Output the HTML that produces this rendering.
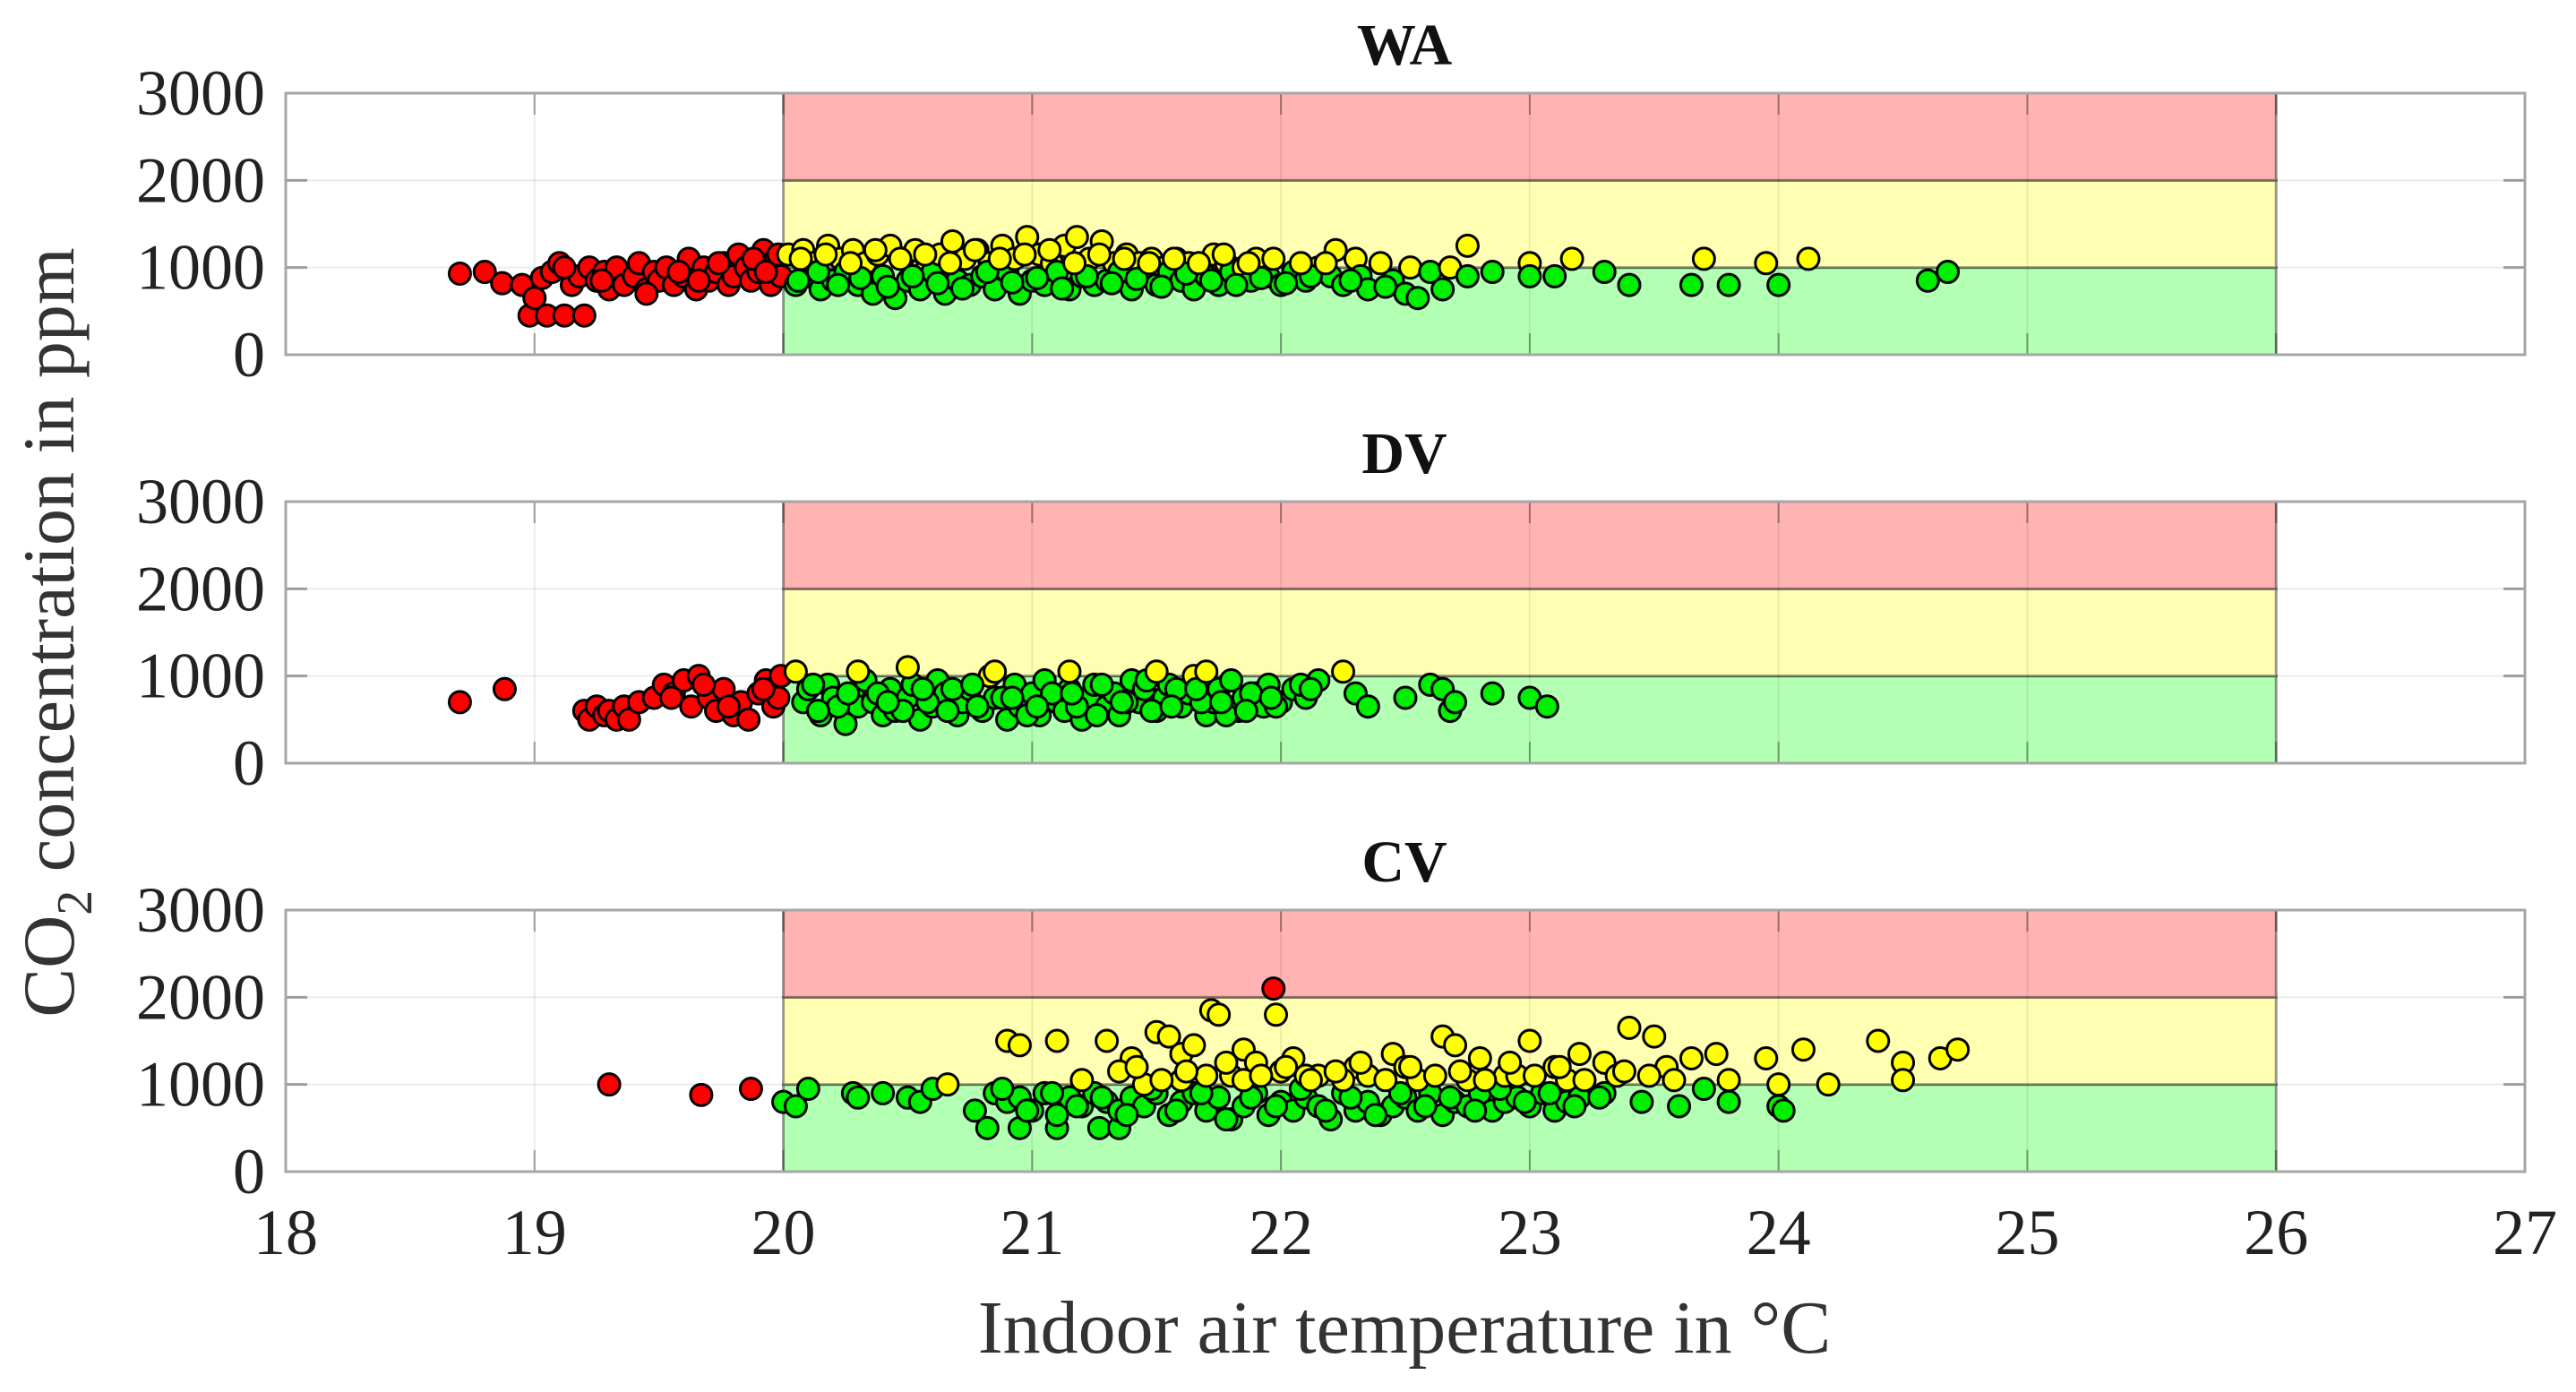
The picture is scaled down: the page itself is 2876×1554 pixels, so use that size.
<!DOCTYPE html>
<html><head><meta charset="utf-8"><style>
html,body{margin:0;padding:0;background:#fff;}
svg{display:block;font-family:"Liberation Serif",serif;}
</style></head><body>
<svg id="chart" width="2876" height="1554" viewBox="0 0 2876 1554" xmlns="http://www.w3.org/2000/svg"></svg>
<script>
const xTicks=[18,19,20,21,22,23,24,25,26,27];
const yTicks=[0,1000,2000,3000];
const panelTitles=["WA","DV","CV"];
const bandLimits=[0,1000,2000,3000];
const bandRange=[20,26];

const waTemp=[18.7,18.8,18.87,18.95,18.98,19.0,19.03,19.05,19.07,19.1,19.12,19.15,19.18,19.2,19.22,19.25,19.28,19.3,19.33,19.36,19.4,19.42,19.45,19.48,19.5,19.53,19.56,19.6,19.62,19.65,19.68,19.7,19.73,19.76,19.78,19.8,19.82,19.85,19.87,19.9,19.92,19.95,19.97,19.99,
19.12,19.27,19.45,19.58,19.66,19.74,19.88,19.93,19.98,
20.02,20.05,20.08,20.1,20.12,20.15,20.18,20.2,20.23,20.25,20.28,20.3,20.33,20.36,20.38,20.4,20.43,20.45,20.48,20.5,20.53,20.55,20.58,20.6,20.63,20.65,20.68,20.7,20.73,20.75,20.78,20.8,20.83,20.85,20.88,20.9,20.93,20.95,20.98,21.0,21.03,21.05,21.08,21.1,21.13,21.15,21.18,21.2,21.23,21.25,21.28,21.3,21.33,21.35,21.38,21.4,21.43,21.45,21.48,21.5,21.53,21.55,21.58,21.6,21.63,21.65,21.68,21.7,21.73,21.75,21.78,21.8,21.85,21.88,21.9,21.95,22.0,22.05,22.1,22.15,22.2,22.22,22.25,22.3,22.32,22.35,22.4,22.45,22.5,22.52,22.55,22.6,22.65,22.68,
20.06,20.14,20.22,20.31,20.42,20.52,20.62,20.72,20.82,20.92,21.02,21.12,21.22,21.32,21.42,21.52,21.62,21.72,21.82,21.92,22.02,22.12,22.28,22.42,
20.07,20.17,20.27,20.37,20.47,20.57,20.67,20.77,20.87,20.97,21.07,21.17,21.27,21.37,21.47,21.57,21.67,21.77,21.87,21.97,22.08,22.18,
22.75,22.75,22.85,23.0,23.0,23.1,23.17,23.3,23.4,23.65,23.7,23.8,23.95,24.0,24.12,24.6,24.68];
const waCo2=[930,950,820,800,450,650,880,450,950,1050,450,800,900,450,1000,850,950,750,1000,800,900,1050,750,950,850,1000,800,900,1100,750,1000,850,950,1050,800,900,1150,1000,850,950,1200,800,1100,900,
1000,850,700,950,850,1050,1100,950,1150,
1150,800,1200,900,1050,750,1250,850,1100,950,1200,800,1050,700,1150,900,1250,650,1100,850,1200,750,1050,950,1150,700,1300,850,1100,800,1200,900,1050,750,1250,950,1100,700,1350,850,1150,800,1050,950,1250,750,1350,900,1100,800,1300,850,1050,950,1150,750,1050,900,1100,800,1000,950,1100,850,1050,750,1000,900,1150,800,1050,950,1000,850,1100,900,800,950,850,1000,900,1200,800,1100,900,750,1050,850,700,1000,650,950,750,1000,
850,950,800,880,780,900,820,760,950,830,880,760,900,820,870,780,930,850,800,880,820,900,850,780,
1100,1150,1050,1200,1100,1150,1050,1200,1100,1150,1200,1050,1150,1100,1050,1100,1050,1150,1050,1100,1050,1050,
1250,900,950,1050,900,900,1100,950,800,800,1100,800,1050,800,1100,850,950];

const dvTemp=[18.7,18.88,19.2,19.22,19.25,19.28,19.3,19.33,19.36,19.38,19.42,19.48,19.52,19.56,19.6,19.63,19.66,19.7,19.73,19.76,19.8,19.83,19.86,19.9,19.93,19.96,19.98,19.99,
19.55,19.68,19.78,19.92,
20.05,20.08,20.1,20.15,20.18,20.2,20.25,20.28,20.3,20.33,20.36,20.4,20.43,20.45,20.5,20.52,20.55,20.6,20.62,20.65,20.7,20.72,20.75,20.8,20.83,20.85,20.9,20.93,20.95,21.0,21.03,21.05,21.1,21.13,21.15,21.2,21.23,21.25,21.3,21.33,21.35,21.4,21.43,21.45,21.5,21.53,21.55,21.6,21.63,21.65,21.7,21.73,21.75,21.8,21.83,21.85,21.9,21.93,21.95,22.0,22.05,22.1,22.15,22.25,
20.12,20.22,20.38,20.48,20.58,20.68,20.78,20.88,20.98,21.08,21.18,21.28,21.38,21.48,21.58,21.68,21.78,21.88,21.98,22.08,
20.14,20.26,20.42,20.56,20.66,20.76,20.92,21.02,21.16,21.26,21.36,21.46,21.56,21.66,21.76,21.86,21.96,22.12,
20.3,20.5,20.85,21.15,21.5,21.7,
22.3,22.35,22.5,22.6,22.65,22.68,22.7,22.85,23.0,23.07];
const dvCo2=[700,850,600,500,650,550,600,500,650,500,700,750,900,800,950,650,1000,750,600,850,550,700,500,800,950,650,750,1000,
750,900,650,850,
1050,700,850,550,900,750,450,800,650,950,700,550,850,600,750,900,500,650,950,800,550,700,850,600,1000,750,500,900,650,800,550,950,700,600,850,500,750,900,650,800,550,950,700,850,600,750,900,650,800,1000,550,700,850,950,600,750,800,650,900,700,850,750,950,1050,
900,650,800,600,700,850,650,750,550,800,650,900,700,600,850,700,550,800,650,900,
600,800,700,850,600,900,750,650,800,550,700,950,650,850,700,600,750,850,
1050,1100,1050,1050,1050,1050,
800,650,750,900,850,600,700,800,750,650];

const cvTemp=[19.3,19.67,19.87,21.97,
20.0,20.05,20.1,20.28,20.3,20.4,20.5,20.55,20.6,20.66,20.77,20.82,20.95,21.1,21.27,21.35,
20.85,20.9,20.95,21.0,21.05,21.1,21.15,21.2,21.25,21.3,21.35,21.4,21.45,21.5,21.55,21.6,21.65,21.7,21.75,21.8,21.85,21.9,21.95,22.0,22.05,22.1,22.15,22.2,22.25,22.3,22.35,22.4,22.45,22.5,22.55,22.6,22.65,22.7,22.75,22.8,22.85,22.9,22.95,23.0,23.05,23.1,23.15,23.2,23.3,23.45,23.6,23.7,23.8,24.0,24.02,
20.88,20.98,21.08,21.18,21.28,21.38,21.48,21.58,21.68,21.78,21.88,21.98,22.08,22.18,22.28,22.38,22.48,22.58,22.68,22.78,22.88,22.98,23.08,23.18,23.28,
20.9,20.95,21.1,21.3,21.4,21.45,21.6,21.72,21.75,21.98,21.85,21.5,21.55,21.65,21.8,21.9,22.05,22.15,22.3,22.45,22.5,22.65,22.7,22.8,22.9,23.0,23.1,23.2,23.3,23.4,23.5,23.55,23.65,23.75,23.8,23.95,24.0,24.1,24.2,24.4,24.5,24.5,24.65,24.72,
21.2,21.35,21.6,21.7,21.85,22.0,22.1,22.25,22.35,22.55,22.75,22.95,23.15,23.35,
21.42,21.52,21.62,21.78,21.92,22.02,22.12,22.22,22.32,22.42,22.52,22.62,22.72,22.82,22.92,23.02,23.12,23.22,23.38,23.48,23.58];
const cvCo2=[1000,880,950,2100,
800,750,950,900,850,900,850,800,950,1000,700,500,500,500,500,500,
900,800,850,700,900,650,850,750,900,800,700,850,750,900,650,800,900,700,850,600,750,900,650,800,700,850,750,600,900,700,800,650,750,850,700,900,650,800,750,900,700,800,850,750,900,700,800,850,900,800,750,950,800,750,700,
950,700,900,750,850,650,950,700,900,600,850,750,950,700,850,650,900,750,850,700,950,800,900,750,850,
1500,1450,1500,1500,1300,1000,1350,1850,1800,1800,1400,1600,1550,1450,1100,1250,1300,1100,1200,1350,1200,1550,1450,1300,1100,1500,1200,1350,1250,1650,1550,1200,1300,1350,1050,1300,1000,1400,1000,1500,1250,1050,1300,1400,
1050,1150,1050,1100,1050,1150,1100,1050,1100,1050,1050,1100,1050,1100,
1200,1050,1150,1250,1100,1200,1050,1150,1250,1050,1200,1100,1150,1050,1250,1100,1200,1050,1150,1100,1050];

const panelTemps=[waTemp,dvTemp,cvTemp];
const panelCo2=[waCo2,dvCo2,cvCo2];

const NS="http://www.w3.org/2000/svg";
const svg=document.getElementById('chart');
const X0=319, X1=2819, PH=292;
const panelTops=[104,560,1016];
function xScale(t){return X0+(t-18)*(X1-X0)/9;}
function yScale(c,top){return top+PH*(1-c/3000);}
function mk(tag,attrs,parent){const e=document.createElementNS(NS,tag);for(const k in attrs)e.setAttribute(k,attrs[k]);(parent||svg).appendChild(e);return e;}
function colorOf(t,c){if(t<20||c>2000)return '#ff0000';if(c>=1000)return '#ffff00';return '#00ee00';}
const bandColors=['#b3ffb3','#ffffb3','#ffb3b3'];

panelTitles.forEach((title,p)=>{
  const top=panelTops[p], bot=top+PH;
  const g=mk('g',{});
  
  
  for(let b=0;b<3;b++){
    const y1=yScale(bandLimits[b+1],top), y0=yScale(bandLimits[b],top);
    const r=mk('rect',{x:xScale(bandRange[0]),y:y1,width:xScale(bandRange[1])-xScale(bandRange[0]),height:y0-y1,fill:bandColors[b],stroke:'rgba(0,0,0,0.35)','stroke-width':3},g);
    
    
  }
  xTicks.forEach(t=>{
    const l=mk('line',{x1:xScale(t),x2:xScale(t),y1:top,y2:bot,stroke:'rgba(0,0,0,0.08)','stroke-width':2},g);
    
    
    mk('line',{x1:xScale(t),x2:xScale(t),y1:bot,y2:bot-24,stroke:'rgba(0,0,0,0.35)','stroke-width':2},g);
    mk('line',{x1:xScale(t),x2:xScale(t),y1:top,y2:top+24,stroke:'rgba(0,0,0,0.35)','stroke-width':2},g);
  });
  yTicks.forEach(v=>{
    const y=yScale(v,top);
    const l=mk('line',{x1:X0,x2:X1,y1:y,y2:y,stroke:'rgba(0,0,0,0.08)','stroke-width':2},g);
    
    
    mk('line',{x1:X0,x2:X0+24,y1:y,y2:y,stroke:'rgba(0,0,0,0.35)','stroke-width':3},g);
    mk('line',{x1:X1,x2:X1-24,y1:y,y2:y,stroke:'rgba(0,0,0,0.35)','stroke-width':3},g);
    const tx=mk('text',{x:296,y:y+24,'text-anchor':'end','font-size':72,fill:'#222'},g);
    tx.textContent=v;
    
    
  });
  const box=mk('rect',{x:X0,y:top,width:X1-X0,height:PH,fill:'none',stroke:'#a6a6a6','stroke-width':3},g);
  
  
  const ti=mk('text',{x:1568,y:top-32,'text-anchor':'middle','font-size':66,'font-weight':'bold',fill:'#111'},g);
  ti.textContent=title;
  
  
  const temps=panelTemps[p], co2=panelCo2[p];
  for(let i=0;i<temps.length;i++){
    const c=mk('circle',{cx:xScale(temps[i]),cy:yScale(co2[i],top),r:12,fill:colorOf(temps[i],co2[i]),stroke:'#000','stroke-width':3},g);
    
    
  }
});
xTicks.forEach(t=>{
  const tx=mk('text',{x:xScale(t),y:1400,'text-anchor':'middle','font-size':72,fill:'#222'});
  tx.textContent=t;
  
  
});
const xl=mk('text',{x:1568,y:1510,'text-anchor':'middle','font-size':84,fill:'#333'});
xl.textContent='Indoor air temperature in °C';


const yl=mk('text',{x:0,y:0,'text-anchor':'middle','font-size':82,fill:'#333',transform:'translate(82,706) rotate(-90)'});


yl.innerHTML='CO<tspan font-size="56" dy="20">2</tspan><tspan dy="-20"> concentration in ppm</tspan>';
</script>
</body></html>
